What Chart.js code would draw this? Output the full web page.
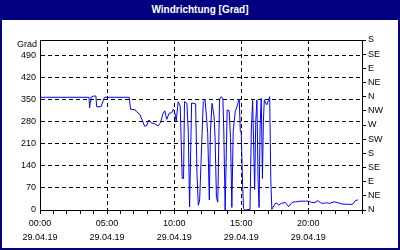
<!DOCTYPE html>
<html>
<head>
<meta charset="utf-8">
<script src="https://cdn.jsdelivr.net/npm/chart.js@4"></script>
<style>
  html, body { margin: 0; padding: 0; background: #fff; }
  #wrap { position: relative; width: 400px; height: 250px; overflow: hidden; }
  #chart { position: absolute; left: 0; top: 0; }
  #title {
    position: absolute; left: 0; top: 0; width: 400px; height: 20px;
    background: #000080; color: #fff; text-align: center;
    font: bold 10px "Liberation Sans", sans-serif; line-height: 19px;
  }
  #frame {
    position: absolute; left: 0; top: 0; width: 400px; height: 250px;
    box-sizing: border-box; border: 2px solid #000080; pointer-events: none;
  }
  #unit {
    position: absolute; right: 363px; top: 39px;
    font: 9px "Liberation Sans", sans-serif; color: #000;
  }
</style>
</head>
<body>
<div id="wrap">
  <canvas id="chart" width="400" height="250"></canvas>
  <div id="title">Windrichtung [Grad]</div>
  <div id="unit">Grad</div>
  <div id="frame"></div>
</div>
<script>
// hours since 00:00 on 29.04.19
const hours = [
  0, 3.65, 3.7, 3.75, 3.8, 3.98, 4.17, 4.22, 4.55, 4.8, 6.65,
  6.75, 7.1, 7.2, 7.45, 7.65, 7.8, 7.95, 8.12, 8.3, 8.55, 8.8, 9.0,
  9.15, 9.3, 9.45, 9.62, 9.8, 9.95, 10.07, 10.15, 10.3, 10.45, 10.6, 10.7,
  10.77, 10.95, 11.05, 11.15, 11.3, 11.6, 11.7, 11.8, 11.9, 12.0, 12.17, 12.3,
  12.4, 12.5, 12.62, 12.7, 12.82, 12.97, 13.05, 13.15, 13.25, 13.38, 13.5, 13.63,
  13.7, 13.8, 13.95, 14.1, 14.2, 14.3, 14.4, 14.55, 14.72, 14.85, 14.93, 15.0,
  15.1, 15.17, 15.3, 15.65, 15.75, 15.85, 16.0, 16.08, 16.17, 16.25, 16.33, 16.4,
  16.49, 16.58, 16.65, 16.72, 16.9, 17.0, 17.12, 17.2, 17.28,
  17.47, 17.6, 17.79, 17.99, 18.28, 18.53, 18.78, 19.03, 19.4, 19.77, 20.0,
  20.25, 20.5, 20.7, 20.9, 21.1, 21.35, 21.6, 21.9, 22.15, 22.5, 22.9, 23.3,
  23.5, 23.7
];
const grad = [
  358, 358, 325, 345, 358, 362, 362, 328, 328, 358, 358,
  320, 318, 312, 303, 282, 266, 268, 286, 277, 274, 267, 278,
  305, 315, 288, 307, 309, 320, 305, 282, 344, 331, 100, 100,
  344, 339, 250, 10, 340, 337, 117, 15, 32, 150, 344, 350,
  300, 244, 32, 244, 339, 300, 230, 40, 25, 350, 360, 355,
  250, 0, 318, 315, 230, 8, 250, 312, 334, 352, 250, 245,
  80, 5, 0, 2, 254, 348, 65, 280, 350, 100, 8, 260,
  355, 100, 280, 350, 334, 345, 360, 100, 2,
  16, 23, 16, 21, 24, 11, 24, 26, 28, 28, 28,
  24, 24, 30, 23, 21, 23, 21, 26, 24, 19, 18, 18,
  30, 32
];

const labelHours = [0, 5, 10, 15, 20];
const labelTimes = ['00:00', '05:00', '10:00', '15:00', '20:00'];
const labelDate = '29.04.19';
const leftTicks = [0, 70, 140, 210, 280, 350, 420, 490];
const compass = ['N', 'NE', 'E', 'SE', 'S', 'SW', 'W', 'NW', 'N', 'NE', 'E', 'SE', 'S'];

const font = { family: 'Liberation Sans', size: 9 };

// draws the closed box around the plot
const boxPlugin = {
  id: 'box',
  afterDraw(chart) {
    const a = chart.chartArea;
    const ctx = chart.ctx;
    ctx.save();
    ctx.strokeStyle = '#000';
    ctx.lineWidth = 1;
    ctx.strokeRect(Math.round(a.left) + 0.5, Math.round(a.top) + 0.5,
      Math.round(a.right - a.left), Math.round(a.bottom - a.top));
    ctx.restore();
  }
};

new Chart(document.getElementById('chart'), {
  type: 'line',
  data: {
    datasets: [{
      data: hours.map((h, i) => ({ x: h, y: grad[i] })),
      borderColor: '#0000ff',
      borderWidth: 1,
      pointRadius: 0,
      tension: 0,
      yAxisID: 'y'
    }]
  },
  options: {
    responsive: false,
    animation: false,
    layout: { padding: { top: 40, left: 0, right: 0, bottom: 0 } },
    plugins: { legend: { display: false }, tooltip: { enabled: false } },
    scales: {
      x: {
        type: 'linear',
        min: 0,
        max: 24,
        afterFit: s => { s.height = 40; },
        afterBuildTicks: s => { s.ticks = Array.from({ length: 25 }, (_, i) => ({ value: i })); },
        ticks: {
          autoSkip: false,
          maxRotation: 0,
          padding: 3,
          color: '#000',
          font: { ...font, lineHeight: 14 / 9 },
          callback: v => {
            const i = labelHours.indexOf(v);
            return i < 0 ? '' : [labelTimes[i], labelDate];
          }
        },
        grid: {
          color: c => (c.tick && labelHours.includes(c.tick.value) && c.tick.value > 0) ? '#000' : 'rgba(0,0,0,0)',
          tickColor: '#000',
          tickLength: 4,
          lineWidth: 1
        },
        border: { color: '#000', dash: [4, 3] }
      },
      y: {
        position: 'left',
        min: 0,
        max: 540,
        afterFit: s => { s.width = 40; },
        afterBuildTicks: s => { s.ticks = leftTicks.map(v => ({ value: v })); },
        ticks: { color: '#000', font, padding: 4 },
        grid: {
          color: c => (c.tick && c.tick.value > 0) ? '#000' : 'rgba(0,0,0,0)',
          drawTicks: false
        },
        border: { color: '#000', dash: [4, 3] }
      },
      y2: {
        position: 'right',
        min: 0,
        max: 540,
        afterFit: s => { s.width = 38; },
        afterBuildTicks: s => { s.ticks = compass.map((_, i) => ({ value: i * 45 })); },
        ticks: {
          color: '#000',
          font,
          padding: 2,
          callback: v => compass[Math.round(v / 45)]
        },
        grid: { drawOnChartArea: false, tickColor: '#000', tickLength: 4 },
        border: { color: '#000' }
      }
    }
  },
  plugins: [boxPlugin]
});
</script>
</body>
</html>
